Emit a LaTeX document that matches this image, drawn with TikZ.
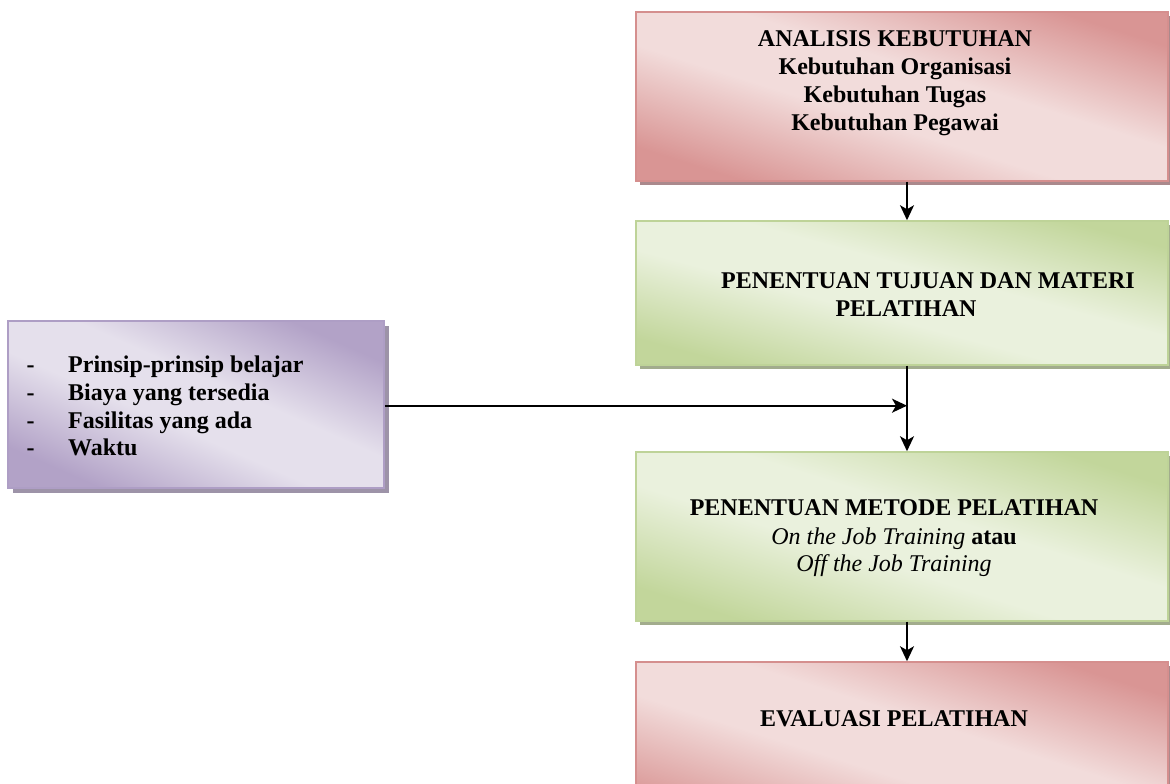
\documentclass[tikz,border=0pt]{standalone}
\usepackage{fontspec}
\setmainfont{Liberation Serif}
\usetikzlibrary{arrows.meta,shadows}

% fill colours of the three box families
\definecolor{redlight}{HTML}{F2DCDB}
\definecolor{reddark}{HTML}{D99594}
\definecolor{redline}{HTML}{D58F8E}
\definecolor{redshadow}{HTML}{AA898C}
\definecolor{greenlight}{HTML}{EAF1DD}
\definecolor{greendark}{HTML}{C2D69B}
\definecolor{greenline}{HTML}{BED398}
\definecolor{greenshadow}{HTML}{A2AC8D}
\definecolor{purplelight}{HTML}{E5E0EC}
\definecolor{purpledark}{HTML}{B2A2C7}
\definecolor{purpleline}{HTML}{AE9EC5}
\definecolor{purpleshadow}{HTML}{9D93A8}

% dark - light - dark bands for the diagonal box fills
\pgfdeclareverticalshading{redband}{100bp}{color(0bp)=(reddark); color(25bp)=(reddark); color(44bp)=(redlight); color(56bp)=(redlight); color(75bp)=(reddark); color(100bp)=(reddark)}
\pgfdeclareverticalshading{greenband}{100bp}{color(0bp)=(greendark); color(25bp)=(greendark); color(44bp)=(greenlight); color(56bp)=(greenlight); color(75bp)=(greendark); color(100bp)=(greendark)}
\pgfdeclareverticalshading{purpleband}{100bp}{color(0bp)=(purpledark); color(25bp)=(purpledark); color(44bp)=(purplelight); color(56bp)=(purplelight); color(75bp)=(purpledark); color(100bp)=(purpledark)}

\tikzset{
  box/.style={rectangle, inner sep=0pt, line width=1.5pt, shade,
    minimum width=532pt, minimum height=169pt},
  redbox/.style={box, draw=redline, shading=redband, shading angle=-17.6,
    drop shadow={shadow xshift=4pt, shadow yshift=-4pt, fill=redshadow, opacity=1}},
  greenbox/.style={box, draw=greenline, shading=greenband, shading angle=-17.6,
    drop shadow={shadow xshift=4pt, shadow yshift=-4pt, fill=greenshadow, opacity=1}},
  purplebox/.style={box, draw=purpleline, shading=purpleband, shading angle=-23.9,
    minimum width=376pt, minimum height=167pt,
    drop shadow={shadow xshift=4.5pt, shadow yshift=-5pt, fill=purpleshadow, opacity=1}},
  txt/.style={font=\fontsize{24}{28}\selectfont\bfseries, anchor=base, inner sep=0pt},
  ltxt/.style={txt, anchor=base west},
  arr/.style={-{Stealth[length=15pt,width=14pt,inset=4pt]}, line width=1.8pt, black}
}

\begin{document}
\begin{tikzpicture}[x=1pt,y=1pt]
\useasboundingbox (0,0) rectangle (1170,784);

% boxes of the training cycle
\node[redbox] (b1) at (902,687.5) {};
\node[greenbox, minimum height=144pt, shading angle=-15.1] (b2) at (902,491) {};
\node[greenbox] (b3) at (902,247.5) {};
\node[redbox] (b4) at (902,37.5) {};
\node[purplebox] (lb) at (196,379.5) {};

% texts
\node[txt] (t11) at (895,737) {ANALISIS KEBUTUHAN};
\node[txt] (t12) at (895,709) {Kebutuhan Organisasi};
\node[txt] (t13) at (895,681) {Kebutuhan Tugas};
\node[txt] (t14) at (895,653) {Kebutuhan Pegawai};

\node[txt] (t21) at (928,495) {PENENTUAN TUJUAN DAN MATERI};
\node[txt] (t22) at (906,467) {PELATIHAN};

\node[txt] (t31) at (894,268) {PENENTUAN METODE PELATIHAN};
\node[txt] (t32) at (894,239) {{\mdseries\itshape On the Job Training} atau};
\node[txt] (t33) at (894,212) {\mdseries\itshape Off the Job Training};

\node[txt] (t41) at (894,57) {EVALUASI PELATIHAN};

\node[txt] (d1) at (30.5,411.3) {-};
\node[txt] (d2) at (30.5,383.5) {-};
\node[txt] (d3) at (30.5,355.8) {-};
\node[txt] (d4) at (30.5,328) {-};
\node[ltxt] (l1) at (68,411.3) {Prinsip-prinsip belajar};
\node[ltxt] (l2) at (68,383.5) {Biaya yang tersedia};
\node[ltxt] (l3) at (68,355.8) {Fasilitas yang ada};
\node[ltxt] (l4) at (68,328) {Waktu};

% connectors
\coordinate (vx) at (907,0);
\draw[arr] (b1.south -| vx) -- (b2.north -| vx);
\draw[arr] (b2.south -| vx) -- (b3.north -| vx);
\draw[arr] (b3.south -| vx) -- (b4.north -| vx);
\draw[arr] ([yshift=-1.2pt]lb.east) -- ([yshift=-1.2pt]lb.east -| vx);
\end{tikzpicture}
\end{document}
